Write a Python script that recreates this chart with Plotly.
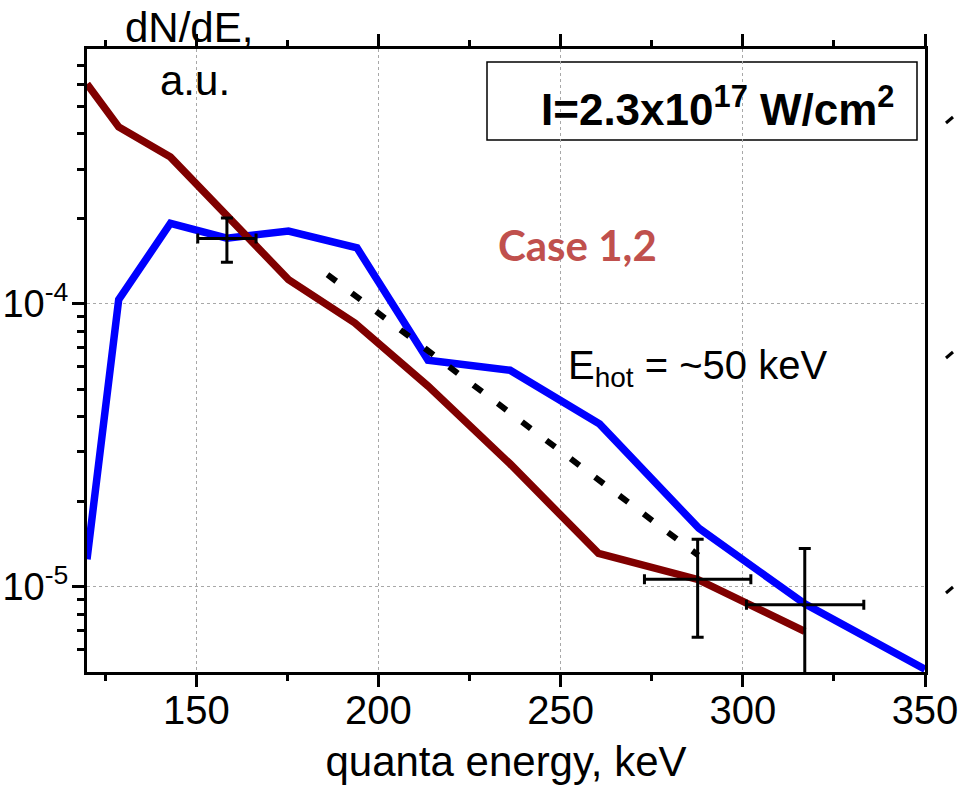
import plotly.graph_objects as go

# ---------------- data ----------------
energy_red = [120.0, 128.7, 142.9, 175.3, 193.5, 213.6, 236.1, 260.4, 287.6, 317.0]
dnde_red = [6.0e-4, 4.23e-4, 3.31e-4, 1.22e-4, 8.57e-5, 5.12e-5, 2.72e-5, 1.31e-5, 1.06e-5, 6.95e-6]

energy_blue = [120.0, 128.7, 142.9, 158.4, 175.3, 194.1, 213.6, 236.1, 260.7, 287.9, 317.0, 350.0]
dnde_blue = [1.25e-5, 1.036e-4, 1.93e-4, 1.71e-4, 1.81e-4, 1.58e-4, 6.32e-5, 5.83e-5, 3.76e-5, 1.61e-5, 8.69e-6, 5.1e-6]

fit_energy = [186.0, 287.8]
fit_dnde = [1.27e-4, 1.29e-5]

exp_energy = [158.4, 287.6, 317.0]
exp_dnde = [1.706e-4, 1.062e-5, 8.63e-6]
exp_err_up = [0.31e-4, 0.41e-5, 0.50e-5]
exp_err_down = [0.30e-4, 0.40e-5, 0.45e-5]
exp_xerr_minus = [8.0, 14.6, 16.0]
exp_xerr_plus = [8.0, 14.6, 16.2]

x_major = [150, 200, 250, 300, 350]
x_minor = [125, 175, 225, 275, 325]
y_major = [1e-5, 1e-4]
y_major_text = ["10<sup>-5</sup>", "10<sup>-4</sup>"]
y_minor = [k * 1e-6 for k in range(6, 10)] + [k * 1e-5 for k in range(2, 10)] + [k * 1e-4 for k in range(2, 8)]

FONT = "Liberation Sans, Arial, sans-serif"

# ---------------- layout geometry ----------------
W, H = 963, 804
L, R, T, B = 87, 38, 49, 132
PW, PH = W - L - R, H - T - B


def px(xp):
    return (xp - L) / PW


def py(yp):
    return (H - B - yp) / PH


fig = go.Figure()
fig.add_trace(go.Scatter(x=energy_blue, y=dnde_blue, mode="lines",
                         line=dict(color="#0000FF", width=7.5), showlegend=False))
fig.add_trace(go.Scatter(x=energy_red, y=dnde_red, mode="lines",
                         line=dict(color="#800000", width=7.5), showlegend=False))
fig.add_trace(go.Scatter(x=fit_energy, y=fit_dnde, mode="lines",
                         line=dict(color="black", width=6, dash="11px,19.5px"),
                         showlegend=False))
fig.add_trace(go.Scatter(
    x=exp_energy, y=exp_dnde, mode="markers",
    marker=dict(size=1, color="black"),
    error_y=dict(type="data", symmetric=False, array=exp_err_up, arrayminus=exp_err_down,
                 color="black", thickness=3, width=6),
    error_x=dict(type="data", symmetric=False, array=exp_xerr_plus, arrayminus=exp_xerr_minus,
                 color="black", thickness=3, width=5),
    showlegend=False))

fig.update_xaxes(
    range=[120, 350], tickmode="array", tickvals=x_major, automargin=False,
    ticks="outside", ticklen=12, tickwidth=3, tickcolor="black",
    showline=True, linewidth=3, linecolor="black", mirror="ticks",
    showgrid=True, gridcolor="#a8a8a8", gridwidth=1, griddash="dot", zeroline=False,
    minor=dict(tickmode="array", tickvals=x_minor, ticks="outside", ticklen=6,
               tickwidth=3, tickcolor="black", showgrid=False),
    tickfont=dict(family=FONT, size=40, color="black"), ticklabelstandoff=-11,
    title=dict(text="quanta energy, keV", font=dict(family=FONT, size=42, color="black"),
               standoff=16),
)
fig.update_yaxes(
    type="log", range=[-5.302, -3.098], tickmode="array", tickvals=y_major, ticktext=y_major_text,
    automargin=False,
    ticks="outside", ticklen=12, tickwidth=3, tickcolor="black",
    showline=True, linewidth=3, linecolor="black", mirror=True,
    showgrid=True, gridcolor="#a8a8a8", gridwidth=1, griddash="dot", zeroline=False,
    minor=dict(tickmode="array", tickvals=y_minor, ticks="outside", ticklen=7,
               tickwidth=3, tickcolor="black", showgrid=False),
    tickfont=dict(family=FONT, size=38, color="black"), ticklabelstandoff=-4,
)

annotations = [
    dict(text="dN/dE,", x=px(189), y=py(28), xref="paper", yref="paper",
         showarrow=False, xanchor="center", yanchor="middle",
         font=dict(family=FONT, size=42, color="black")),
    dict(text="a.u.", x=px(195), y=py(81), xref="paper", yref="paper",
         showarrow=False, xanchor="center", yanchor="middle",
         font=dict(family=FONT, size=42, color="black")),
    dict(text="<b>I=2.3x10<sup>17</sup> W/cm<sup>2</sup></b>", x=px(717), y=py(107),
         xref="paper", yref="paper", showarrow=False, xanchor="center", yanchor="middle",
         font=dict(family=FONT, size=44, color="black")),
    dict(text="<b>Case 1,2</b>", x=px(577), y=py(245), xref="paper", yref="paper",
         showarrow=False, xanchor="center", yanchor="middle",
         font=dict(family="Lato, Open Sans, sans-serif", size=42, color="#C0504D")),
    dict(text="E<sub>hot</sub> = ~50 keV", x=px(566), y=py(368), xref="paper", yref="paper",
         showarrow=False, xanchor="left", yanchor="middle",
         font=dict(family=FONT, size=40, color="black")),
]

shapes = [
    dict(type="rect", xref="paper", yref="paper", x0=px(487), x1=px(917), y0=py(140), y1=py(62),
         line=dict(color="black", width=1.5), fillcolor="white", layer="below"),
]
for yy in [120, 355, 590]:
    shapes.append(dict(type="line", xref="paper", yref="paper",
                       x0=px(946), x1=px(953), y0=py(yy + 3), y1=py(yy - 3),
                       line=dict(color="black", width=3)))

fig.update_layout(
    width=W, height=H, margin=dict(l=L, r=R, t=T, b=B),
    paper_bgcolor="white", plot_bgcolor="white",
    annotations=annotations, shapes=shapes, showlegend=False,
)

fig.write_html("out.html")
